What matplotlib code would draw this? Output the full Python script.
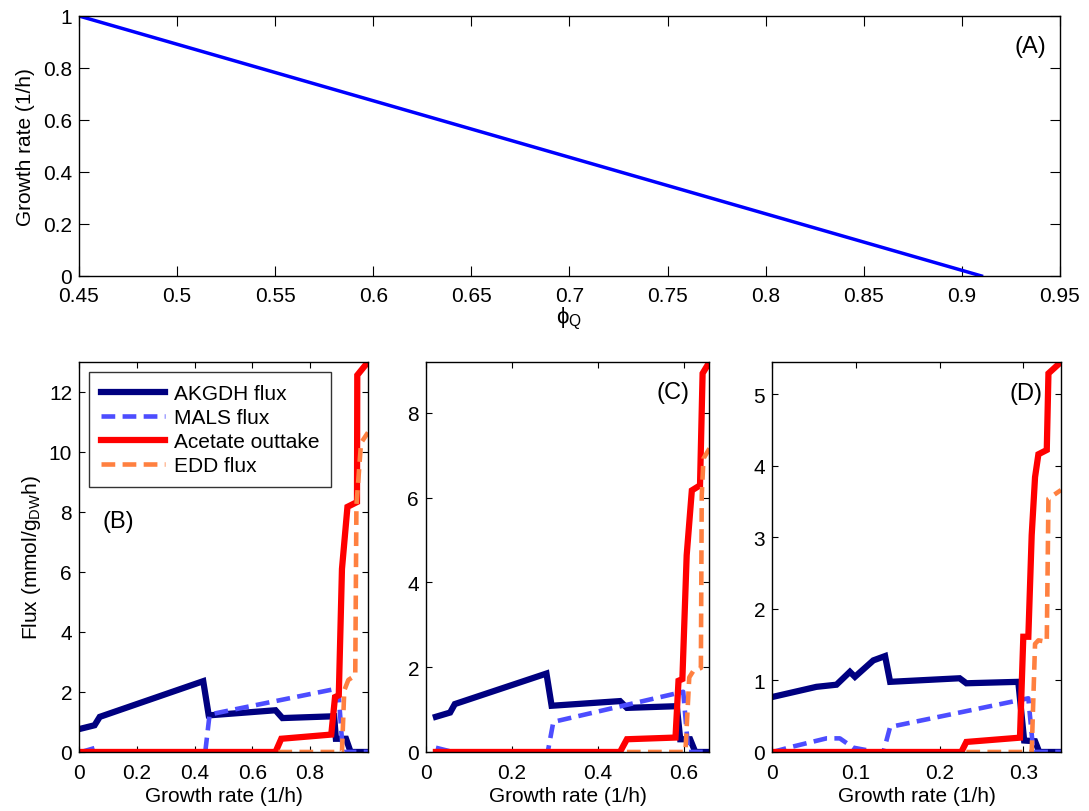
#!/usr/bin/env python3
"""
Growth rate vs phi_Q and fluxes vs growth rate (panels A-D)
"""

import matplotlib
matplotlib.use('Agg')
import matplotlib.pyplot as plt

plt.rcParams['font.family'] = ['Liberation Sans', 'DejaVu Sans']
plt.rcParams['mathtext.default'] = 'regular'

# Panel A
phi_q = [0.45, 0.91]
growth_a = [1.0, 0.0]

# Panel B
akgdh_b_x = [0.008, 0.054, 0.072, 0.430, 0.449, 0.680, 0.704, 0.883, 0.889, 0.924, 0.940, 1.0]
akgdh_b_y = [0.78, 0.89, 1.17, 2.36, 1.22, 1.39, 1.13, 1.19, 0.44, 0.44, 0.0, 0.0]
mals_b_x = [0.008, 0.054, 0.072, 0.437, 0.452, 0.897, 0.913, 1.0]
mals_b_y = [0.0, 0.13, 0.0, 0.0, 1.25, 2.12, 0.0, 0.0]
acetate_b_x = [0.008, 0.680, 0.700, 0.873, 0.886, 0.899, 0.910, 0.929, 0.962, 0.963, 1.0]
acetate_b_y = [0.0, 0.0, 0.44, 0.58, 1.83, 1.89, 6.1, 8.17, 8.33, 12.56, 13.0]
edd_b_x = [0.690, 0.910, 0.918, 0.932, 0.956, 0.960, 0.976, 1.0]
edd_b_y = [0.0, 0.0, 2.05, 2.40, 2.55, 8.2, 10.3, 10.65]

# Panel C
akgdh_c_x = [0.023, 0.056, 0.067, 0.280, 0.292, 0.451, 0.467, 0.583, 0.591, 0.614, 0.626, 0.658]
akgdh_c_y = [0.83, 0.93, 1.13, 1.85, 1.09, 1.20, 1.04, 1.08, 0.30, 0.30, 0.0, 0.0]
mals_c_x = [0.023, 0.062, 0.283, 0.296, 0.598, 0.610, 0.658]
mals_c_y = [0.1, 0.0, 0.0, 0.71, 1.42, 0.0, 0.0]
acetate_c_x = [0.023, 0.451, 0.467, 0.580, 0.587, 0.596, 0.606, 0.618, 0.637, 0.643, 0.659]
acetate_c_y = [0.0, 0.0, 0.30, 0.34, 1.68, 1.72, 4.64, 6.17, 6.29, 8.93, 9.2]
edd_c_x = [0.467, 0.603, 0.612, 0.622, 0.639, 0.641, 0.645, 0.659]
edd_c_y = [0.0, 0.0, 1.76, 1.92, 1.98, 6.05, 6.92, 7.16]

# Panel D
akgdh_d_x = [0.001, 0.053, 0.077, 0.093, 0.099, 0.121, 0.135, 0.141, 0.224, 0.232, 0.294, 0.301, 0.314, 0.319, 0.345]
akgdh_d_y = [0.77, 0.91, 0.94, 1.12, 1.05, 1.28, 1.34, 0.98, 1.03, 0.96, 0.98, 0.16, 0.15, 0.0, 0.0]
mals_d_x = [0.001, 0.023, 0.065, 0.081, 0.097, 0.120, 0.133, 0.141, 0.306, 0.312, 0.345]
mals_d_y = [0.0, 0.07, 0.19, 0.19, 0.06, 0.01, 0.0, 0.35, 0.75, 0.0, 0.0]
acetate_d_x = [0.001, 0.226, 0.232, 0.296, 0.300, 0.306, 0.310, 0.314, 0.318, 0.328, 0.330, 0.345]
acetate_d_y = [0.0, 0.0, 0.14, 0.20, 1.61, 1.61, 3.03, 3.84, 4.16, 4.22, 5.29, 5.45]
edd_d_x = [0.232, 0.310, 0.314, 0.318, 0.328, 0.330, 0.345]
edd_d_y = [0.0, 0.0, 1.51, 1.56, 1.54, 3.54, 3.66]

NAVY = '#000080'
MALS_BLUE = '#4d4dff'
RED = '#ff0000'
ORANGE = '#ff8040'
FS = 15


def style_axes(ax, ticklen):
    ax.tick_params(direction='in', top=True, right=True, length=ticklen,
                   width=0.8, labelsize=FS, pad=5)
    for s in ax.spines.values():
        s.set_linewidth(1.0)


def plot_fluxes(ax, ak, ma, ac, ed):
    ax.plot(ak[0], ak[1], color=NAVY, lw=4.5, solid_joinstyle='miter',
            label='AKGDH flux')
    ax.plot(ma[0], ma[1], color=MALS_BLUE, lw=3.3, ls=(0, (3.0, 1.6)),
            label='MALS flux')
    ax.plot(ac[0], ac[1], color=RED, lw=4.5, solid_joinstyle='miter',
            label='Acetate outtake')
    ax.plot(ed[0], ed[1], color=ORANGE, lw=3.3, ls=(0, (3.0, 1.6)),
            label='EDD flux')
    ax.set_xlabel('Growth rate (1/h)', fontsize=FS, labelpad=3)
    style_axes(ax, 4)
    ax.tick_params(axis='x', pad=8)


fig = plt.figure(figsize=(10.89, 8.12), dpi=100)

# (A)
ax_a = fig.add_axes([0.0725, 0.6589, 0.9008, 0.3202])
ax_a.plot(phi_q, growth_a, color='#0000ff', lw=2.5)
ax_a.set_xlim(0.45, 0.95)
ax_a.set_ylim(0, 1)
ax_a.set_xticks([0.45, 0.5, 0.55, 0.6, 0.65, 0.7, 0.75, 0.8, 0.85, 0.9, 0.95])
ax_a.set_xticklabels(['0.45', '0.5', '0.55', '0.6', '0.65', '0.7', '0.75',
                      '0.8', '0.85', '0.9', '0.95'])
ax_a.set_yticks([0, 0.2, 0.4, 0.6, 0.8, 1])
ax_a.set_yticklabels(['0', '0.2', '0.4', '0.6', '0.8', '1'])
ax_a.set_xlabel('ϕ$_{Q}$', fontsize=FS + 1, labelpad=0)
ax_a.set_ylabel('Growth rate (1/h)', fontsize=FS, labelpad=6)
ax_a.text(0.935, 0.885, '(A)', fontsize=17, ha='center', va='center')
style_axes(ax_a, 7)
ax_a.tick_params(axis='x', pad=7)

# (B)
ax_b = fig.add_axes([0.0725, 0.0727, 0.2654, 0.4803])
plot_fluxes(ax_b, (akgdh_b_x, akgdh_b_y), (mals_b_x, mals_b_y),
            (acetate_b_x, acetate_b_y), (edd_b_x, edd_b_y))
ax_b.set_xlim(0, 1.0)
ax_b.set_ylim(0, 13)
ax_b.set_xticks([0, 0.2, 0.4, 0.6, 0.8])
ax_b.set_xticklabels(['0', '0.2', '0.4', '0.6', '0.8'])
ax_b.set_yticks([0, 2, 4, 6, 8, 10, 12])
ax_b.set_ylabel('Flux (mmol/g$_{DW}$h)', fontsize=FS, labelpad=4)
ax_b.text(0.136, 7.7, '(B)', fontsize=17, ha='center', va='center')
leg = ax_b.legend(loc='upper left', fontsize=FS, handlelength=3.1,
                  borderaxespad=0.5, fancybox=False, labelspacing=0.25,
                  handletextpad=0.4, borderpad=0.55)
leg.get_frame().set_edgecolor('black')
leg.get_frame().set_linewidth(1.0)

# (C)
ax_c = fig.add_axes([0.3912, 0.0727, 0.2599, 0.4803])
plot_fluxes(ax_c, (akgdh_c_x, akgdh_c_y), (mals_c_x, mals_c_y),
            (acetate_c_x, acetate_c_y), (edd_c_x, edd_c_y))
ax_c.set_xlim(0, 0.658)
ax_c.set_ylim(0, 9.2)
ax_c.set_xticks([0, 0.2, 0.4, 0.6])
ax_c.set_xticklabels(['0', '0.2', '0.4', '0.6'])
ax_c.set_yticks([0, 2, 4, 6, 8])
ax_c.text(0.574, 8.48, '(C)', fontsize=17, ha='center', va='center')

# (D)
ax_d = fig.add_axes([0.7089, 0.0727, 0.2654, 0.4803])
plot_fluxes(ax_d, (akgdh_d_x, akgdh_d_y), (mals_d_x, mals_d_y),
            (acetate_d_x, acetate_d_y), (edd_d_x, edd_d_y))
ax_d.set_xlim(0, 0.345)
ax_d.set_ylim(0, 5.45)
ax_d.set_xticks([0, 0.1, 0.2, 0.3])
ax_d.set_xticklabels(['0', '0.1', '0.2', '0.3'])
ax_d.set_yticks([0, 1, 2, 3, 4, 5])
ax_d.text(0.3036, 5.02, '(D)', fontsize=17, ha='center', va='center')

fig.savefig('out.png', dpi=100)
